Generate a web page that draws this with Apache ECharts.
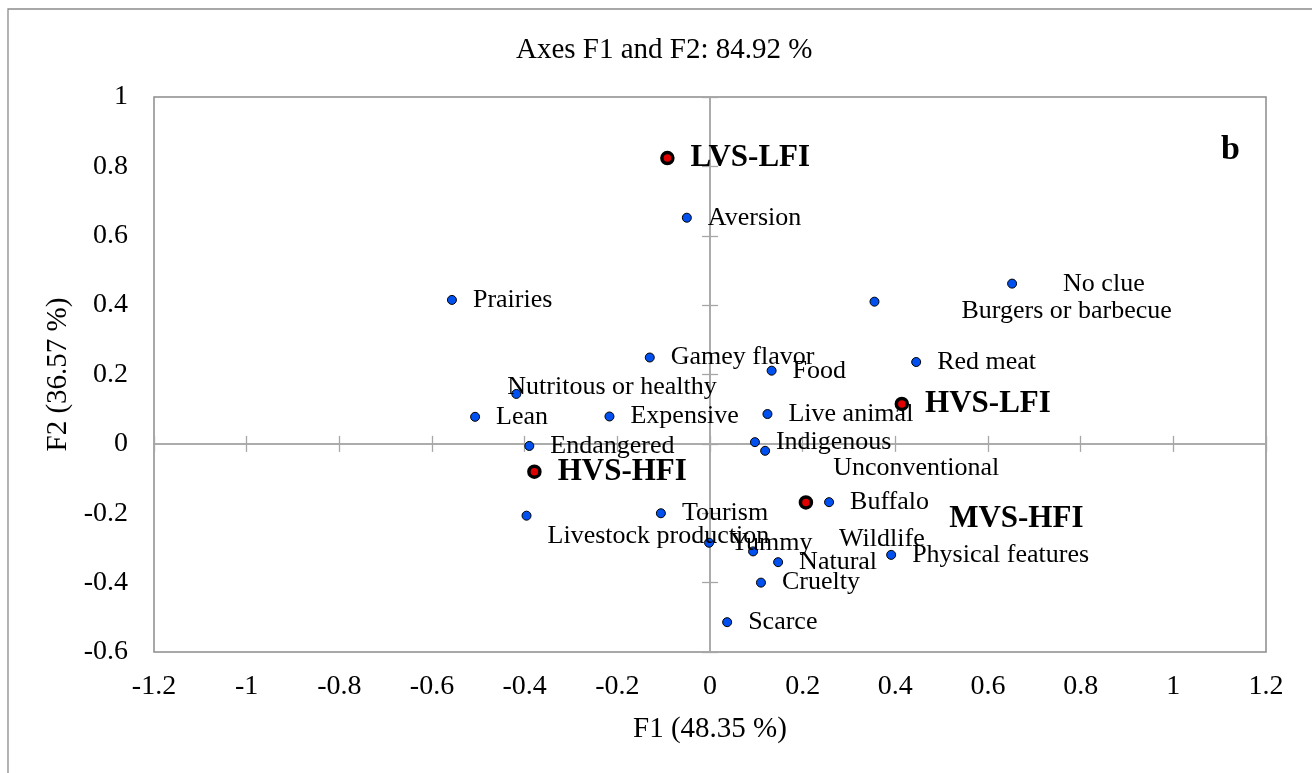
<!DOCTYPE html>
<html>
<head>
<meta charset="utf-8">
<script src="https://cdn.jsdelivr.net/npm/echarts@6/dist/echarts.min.js"></script>
<style>
  html, body { margin: 0; padding: 0; background: #fff; }
  #chart { width: 1312px; height: 773px; }
</style>
</head>
<body>
<div id="chart"></div>
<script>
// Attribute terms (blue points): F1 / F2 coordinates
const termNames = [
  'Aversion', 'Prairies', 'Gamey flavor', 'Food', 'Nutritous or healthy', 'Lean',
  'Expensive', 'Live animal', 'Endangered', 'Indigenous', 'Unconventional', 'Buffalo',
  'Tourism', 'Livestock production', 'Yummy', 'Wildlife', 'Natural', 'Cruelty',
  'Scarce', 'Physical features', 'Red meat', 'No clue', 'Burgers or barbecue'
];
const termF1 = [
  -0.050, -0.557, -0.130, 0.133, -0.418, -0.507,
  -0.217, 0.124, -0.390, 0.097, 0.119, 0.257,
  -0.106, -0.396, -0.002, 0.093, 0.147, 0.110,
  0.037, 0.391, 0.445, 0.652, 0.355
];
const termF2 = [
  0.652, 0.415, 0.249, 0.211, 0.144, 0.078,
  0.079, 0.086, -0.006, 0.005, -0.020, -0.168,
  -0.200, -0.207, -0.285, -0.310, -0.341, -0.400,
  -0.514, -0.320, 0.236, 0.462, 0.410
];

// Consumer groups (red points)
const groupNames = ['LVS-LFI', 'HVS-LFI', 'HVS-HFI', 'MVS-HFI'];
const groupF1 = [-0.092, 0.414, -0.379, 0.207];
const groupF2 = [0.824, 0.115, -0.080, -0.169];

// Axis ticks
const axisF1Ticks = { min: -1.2, max: 1.2, step: 0.2 };
const axisF2Ticks = { min: -0.6, max: 1.0, step: 0.2 };

// Labels nudged away from their default spot to avoid collisions
const labelShift = {
  'Nutritous or healthy': [-30, -7],
  'Unconventional': [47, 17],
  'Livestock production': [0, 20],
  'Wildlife': [65, -12],
  'No clue': [30, 1],
  'Burgers or barbecue': [66, 10],
  'MVS-HFI': [120, 16]
};

const FONT = '"Liberation Serif", "Times New Roman", serif';
const GRID_LINE = '#a6a6a6';
const BORDER = '#8c8c8c';

function buildPoints(names, xs, ys) {
  return names.map((n, i) => {
    const item = { name: n, value: [xs[i], ys[i]] };
    if (labelShift[n]) item.label = { offset: labelShift[n] };
    return item;
  });
}

// Axis drawn through the origin; one copy carries inward ticks, the other outward ticks
function zeroAxis(kind, inside) {
  return {
    type: 'value',
    position: kind === 'x' ? 'bottom' : 'left',
    min: kind === 'x' ? axisF1Ticks.min : axisF2Ticks.min,
    max: kind === 'x' ? axisF1Ticks.max : axisF2Ticks.max,
    interval: kind === 'x' ? axisF1Ticks.step : axisF2Ticks.step,
    axisLine: { show: true, onZero: true, onZeroAxisIndex: 0, lineStyle: { color: GRID_LINE, width: 1.5 } },
    axisTick: { show: true, inside: inside, length: 8, lineStyle: { color: GRID_LINE, width: 1.3 } },
    axisLabel: { show: false },
    splitLine: { show: false }
  };
}

const chart = echarts.init(document.getElementById('chart'), null, { renderer: 'canvas' });

chart.setOption({
  backgroundColor: '#ffffff',
  animation: false,
  textStyle: { fontFamily: FONT },
  title: [
    {
      text: 'Axes F1 and F2: 84.92 %',
      left: 511, top: 31,
      textStyle: { fontFamily: FONT, fontSize: 29, fontWeight: 'normal', color: '#000' }
    },
    {
      text: 'b',
      left: 1216, top: 128,
      textStyle: { fontFamily: FONT, fontSize: 34, fontWeight: 'bold', color: '#000' }
    }
  ],
  graphic: [
    {
      type: 'rect',
      shape: { x: 8, y: 9, width: 1330, height: 800 },
      style: { fill: 'none', stroke: BORDER, lineWidth: 1.3 },
      silent: true, z: -1
    }
  ],
  grid: {
    left: 154, top: 97, right: 46, bottom: 121,
    show: true, borderColor: BORDER, borderWidth: 1.5, backgroundColor: '#fff'
  },
  xAxis: [
    {
      type: 'value',
      min: axisF1Ticks.min, max: axisF1Ticks.max, interval: axisF1Ticks.step,
      position: 'bottom',
      axisLine: { show: false, onZero: false },
      axisTick: { show: false },
      splitLine: { show: false },
      axisLabel: { fontFamily: FONT, fontSize: 28, color: '#000', margin: 21 },
      name: 'F1 (48.35 %)',
      nameLocation: 'middle', nameGap: 63,
      nameTextStyle: { fontFamily: FONT, fontSize: 29, color: '#000' }
    },
    zeroAxis('x', true),
    zeroAxis('x', false)
  ],
  yAxis: [
    {
      type: 'value',
      min: axisF2Ticks.min, max: axisF2Ticks.max, interval: axisF2Ticks.step,
      position: 'left',
      axisLine: { show: false, onZero: false },
      axisTick: { show: false },
      splitLine: { show: false },
      axisLabel: { fontFamily: FONT, fontSize: 28, color: '#000', margin: 26 },
      name: 'F2 (36.57 %)',
      nameLocation: 'middle', nameGap: 78, nameRotate: 90,
      nameTextStyle: { fontFamily: FONT, fontSize: 29, color: '#000' }
    },
    zeroAxis('y', true),
    zeroAxis('y', false)
  ],
  series: [
    {
      type: 'scatter',
      name: 'Terms',
      xAxisIndex: 0, yAxisIndex: 0,
      symbol: 'circle', symbolSize: 9,
      itemStyle: { color: '#0050ef', borderColor: '#000', borderWidth: 1, opacity: 1 },
      label: {
        show: true, position: 'right', distance: 16,
        formatter: '{b}',
        fontFamily: FONT, fontSize: 26, color: '#000'
      },
      emphasis: { disabled: true },
      data: buildPoints(termNames, termF1, termF2),
      z: 3
    },
    {
      type: 'scatter',
      name: 'Groups',
      xAxisIndex: 0, yAxisIndex: 0,
      symbol: 'circle', symbolSize: 11,
      itemStyle: { color: '#e00000', borderColor: '#000', borderWidth: 3.5, opacity: 1 },
      label: {
        show: true, position: 'right', distance: 16,
        formatter: '{b}',
        fontFamily: FONT, fontSize: 31, fontWeight: 'bold', color: '#000'
      },
      emphasis: { disabled: true },
      data: buildPoints(groupNames, groupF1, groupF2),
      z: 4
    }
  ]
});
</script>
</body>
</html>
